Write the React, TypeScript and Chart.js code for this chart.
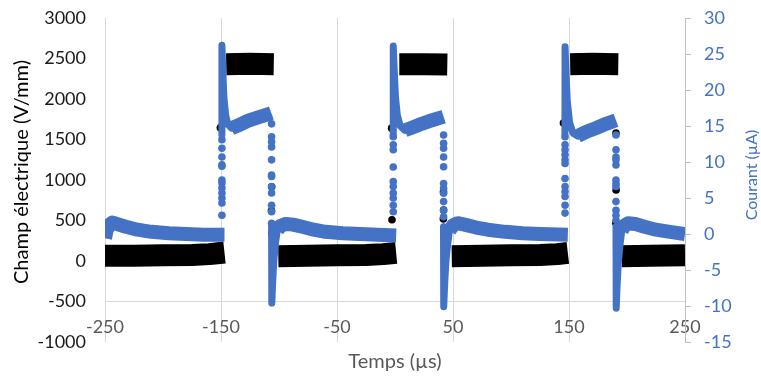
import { useEffect, useRef } from "react";
import { Chart, registerables } from "chart.js";

Chart.register(...registerables);

const FONT = "Lato";
const GREY = "#595959";
const BLUE = "#4472C4";

// Axis ticks
const xTicks = [-250, -150, -50, 50, 150, 250];
const champTicks = [-1000, -500, 0, 500, 1000, 1500, 2000, 2500, 3000];
const courantTicks = [-15, -10, -5, 0, 5, 10, 15, 20, 25, 30];

// Champ électrique (V/mm) — main noisy band (null = break between states)
const champT = [
  -250, -225, -200, -175, -160, -147, -147,
  -145.5, -125, -104.5, -104.5,
  -100.6, -75, -50, -25, -10, 1, 1,
  3.7, 25, 45.1, 45.1,
  48.9, 75, 100, 125, 140, 149, 149,
  151, 170, 192.5, 192.5,
  195.4, 220, 250,
];
const champV = [
  65, 65, 70, 75, 85, 105, null,
  2430, 2435, 2430, null,
  60, 65, 70, 75, 85, 100, null,
  2430, 2430, 2425, null,
  60, 65, 70, 75, 85, 100, null,
  2430, 2435, 2430, null,
  60, 65, 70,
];
// Champ: isolated points during the switching edges
const champTransT = [-150.6, -106.3, -106.5, -106.2, -2.9, -2.6, 41.8, 41.9, 41.7, 145.2, 190.5, 190.6, 190.4];
const champTransV = [1645, 917, 620, 345, 1640, 510, 856, 630, 520, 1704, 1580, 877, 469];

// Courant (µA) — main noisy band (null = break)
const courantT = [
  -250, -248.5, -246, -243.5, -240, -232, -222, -210, -195, -180, -165, -147, -147,
  -141, -135, -127, -118, -110, -106.6, -106.6,
  -101.5, -99, -94, -88, -80, -70, -60, -45, -30, -15, 1, 1,
  8.5, 15, 23, 32, 40, 41.9, 41.9,
  47, 50, 54, 60, 70, 80, 95, 110, 125, 149, 149,
  157.5, 165, 173, 182, 190.5, 190.5,
  195.5, 198, 201, 207, 215, 225, 237, 250,
];
const courantV = [
  -0.6, 0.6, 1.3, 1.6, 1.4, 1.0, 0.6, 0.3, 0.1, 0.0, -0.1, -0.1, null,
  14.7, 15.1, 15.7, 16.2, 16.6, 16.8, null,
  0.5, 1.1, 1.4, 1.3, 1.0, 0.6, 0.3, 0.1, 0.0, -0.1, -0.2, null,
  14.4, 14.8, 15.3, 15.8, 16.2, 16.3, null,
  0.5, 1.2, 1.5, 1.3, 0.9, 0.6, 0.3, 0.1, 0.0, -0.1, null,
  13.6, 14.2, 14.7, 15.3, 15.8, null,
  0.5, 1.2, 1.5, 1.4, 1.0, 0.6, 0.3, 0.0,
];
// Courant: sharp spikes at the rising and falling edges
const picT = [
  -149.3, -149.2, -148.4, -147.5, -146, -144, -141, -141,
  -106.4, -106.2, -105.4, -104.4, -103, -101.5, -101.5,
  -1.6, -1.5, -0.6, 0.4, 2, 4.5, 8.5, 8.5,
  41.8, 42, 42.8, 43.8, 45.3, 47, 47,
  146.5, 146.6, 147.5, 148.5, 150.5, 153.5, 157.5, 157.5,
  190.5, 190.7, 191.5, 192.5, 194, 195.5,
];
const picV = [
  13.8, 26.2, 22.5, 19, 16.5, 15.2, 14.7, null,
  1.0, -9.6, -6.5, -3.5, -1.2, 0.5, null,
  13.8, 26.1, 22.5, 19, 16.5, 15.0, 14.4, null,
  1.0, -10.1, -7, -4, -1.5, 0.5, null,
  13.8, 26.0, 22, 18.5, 15.5, 14.0, 13.6, null,
  1.0, -10.3, -7, -4, -1.5, 0.5,
];
// Courant: sparse points along the edges
const courantTransT = [
  -149.2, -149.2, -149.2, -149.2, -149.2, -149.2, -149.2, -149.2, -149.2, -149.2, -149.2, -149.2,
  -106.4, -106.4, -106.4, -106.4, -106.4, -106.4, -106.4, -106.4, -106.4, -106.4, -106.4, -106.4,
  -1.5, -1.5, -1.5, -1.5, -1.5, -1.5, -1.5, -1.5, -1.5, -1.5,
  41.9, 41.9, 41.9, 41.9, 41.9, 41.9, 41.9, 41.9, 41.9, 41.9, 41.9,
  146.6, 146.6, 146.6, 146.6, 146.6, 146.6, 146.6, 146.6, 146.6, 146.6, 146.6, 146.6,
  190.5, 190.5, 190.5, 190.5, 190.5, 190.5, 190.5, 190.5, 190.5, 190.5, 190.5, 190.5,
];
const courantTransV = [
  13.1, 11.9, 10.7, 9.6, 9.4, 7.5, 7.1, 6.4, 5.7, 5.0, 4.3, 2.6,
  15.3, 13.5, 12.8, 12.1, 10.3, 8.2, 8.0, 6.6, 5.7, 4.0, 3.1, 1.5,
  13.5, 12.4, 11.7, 9.3, 7.3, 6.6, 5.7, 5.0, 4.0, 3.1,
  13.75, 12.6, 11.9, 10.7, 9.35, 7.0, 6.35, 5.65, 4.5, 3.3, 2.4,
  13.5, 12.4, 11.7, 11.0, 10.3, 9.8, 7.7, 6.6, 5.9, 5.2, 4.0, 2.9,
  13.75, 11.7, 10.7, 10.3, 9.6, 7.5, 7.0, 6.6, 4.5, 3.3, 2.6, 1.9,
];

const pts = (t: number[], v: (number | null)[]) => t.map((x, i) => ({ x, y: v[i] }));

// Vertical axis titles (both read bottom-to-top, as in the original)
const sideTitles = {
  id: "sideTitles",
  afterDraw(chart: any) {
    const { ctx } = chart;
    const draw = (text: string, x: number, y: number, size: number, color: string) => {
      ctx.save();
      ctx.translate(x, y);
      ctx.rotate(-Math.PI / 2);
      ctx.textAlign = "center";
      ctx.textBaseline = "middle";
      ctx.fillStyle = color;
      ctx.font = `${size}px ${FONT}`;
      ctx.fillText(text, 0, 0);
      ctx.restore();
    };
    draw("Champ électrique (V/mm)", 22, 172, 20, "#000000");
    draw("Courant (µA)", 752, 175, 16, BLUE);
  },
};

const fmt = (v: any) => String(v);

export default function App() {
  const ref = useRef<HTMLCanvasElement | null>(null);

  useEffect(() => {
    document.body.style.margin = "0";
    const canvas = ref.current;
    if (!canvas) return;
    const chart = new Chart(canvas, {
      type: "scatter",
      data: {
        datasets: [
          {
            data: pts(courantTransT, courantTransV),
            yAxisID: "y1",
            showLine: false,
            pointRadius: 3.8,
            pointBorderWidth: 0,
            pointBackgroundColor: BLUE,
            backgroundColor: BLUE,
          },
          {
            data: pts(picT, picV),
            yAxisID: "y1",
            showLine: true,
            spanGaps: false,
            pointRadius: 0,
            borderColor: BLUE,
            borderWidth: 7,
            borderCapStyle: "round",
            borderJoinStyle: "round",
          },
          {
            data: pts(courantT, courantV),
            yAxisID: "y1",
            showLine: true,
            spanGaps: false,
            pointRadius: 0,
            borderColor: BLUE,
            borderWidth: 14,
            borderCapStyle: "butt",
            borderJoinStyle: "round",
          },
          {
            data: pts(champTransT, champTransV),
            yAxisID: "y",
            showLine: false,
            pointRadius: 3.8,
            pointBorderWidth: 0,
            pointBackgroundColor: "#000000",
            backgroundColor: "#000000",
          },
          {
            data: pts(champT, champV),
            yAxisID: "y",
            showLine: true,
            spanGaps: false,
            pointRadius: 0,
            borderColor: "#000000",
            borderWidth: 22,
            borderCapStyle: "butt",
            borderJoinStyle: "round",
          },
        ],
      },
      options: {
        animation: false,
        responsive: false,
        devicePixelRatio: 1,
        layout: { padding: { top: 18, bottom: 36, left: 0, right: 0 } },
        plugins: { legend: { display: false }, tooltip: { enabled: false } },
        scales: {
          x: {
            type: "linear",
            position: { y: -500 } as any,
            min: -250,
            max: 250,
            afterBuildTicks: (s: any) => {
              s.ticks = xTicks.map((v) => ({ value: v }));
            },
            grid: { color: "#d9d9d9", drawTicks: false, lineWidth: 1 },
            border: { display: true, color: "#d9d9d9" },
            ticks: {
              color: GREY,
              font: { family: FONT, size: 18, lineHeight: 1 },
              padding: 17,
              maxRotation: 0,
              autoSkip: false,
              callback: fmt,
            },
            title: {
              display: true,
              text: "Temps (µs)",
              color: GREY,
              font: { family: FONT, size: 20, lineHeight: 1 },
              padding: { top: -2, bottom: 0 },
            },
          },
          y: {
            type: "linear",
            position: "left",
            min: -1000,
            max: 3000,
            afterBuildTicks: (s: any) => {
              s.ticks = champTicks.map((v) => ({ value: v }));
            },
            afterFit: (s: any) => {
              s.width = 105;
            },
            grid: {
              display: true,
              drawOnChartArea: false,
              drawTicks: true,
              tickLength: 19,
              color: "rgba(0,0,0,0)",
            },
            border: { display: false },
            ticks: {
              color: "#1a1a1a",
              font: { family: FONT, size: 18, lineHeight: 0.5 },
              padding: 0,
              callback: fmt,
            },
          },
          y1: {
            type: "linear",
            position: "right",
            min: -15,
            max: 30,
            afterBuildTicks: (s: any) => {
              s.ticks = courantTicks.map((v) => ({ value: v }));
            },
            afterFit: (s: any) => {
              s.width = 76;
            },
            grid: { drawOnChartArea: false, drawTicks: true, tickLength: 6, color: "#bfbfbf" },
            border: { display: true, color: "#bfbfbf" },
            ticks: {
              color: BLUE,
              font: { family: FONT, size: 18, lineHeight: 0.5 },
              padding: 13,
              callback: fmt,
            },
          },
        },
      },
      plugins: [sideTitles],
    });
    return () => chart.destroy();
  }, []);

  return (
    <div style={{ width: 761, height: 378, background: "#ffffff" }}>
      <canvas ref={ref} width={761} height={378} />
    </div>
  );
}
